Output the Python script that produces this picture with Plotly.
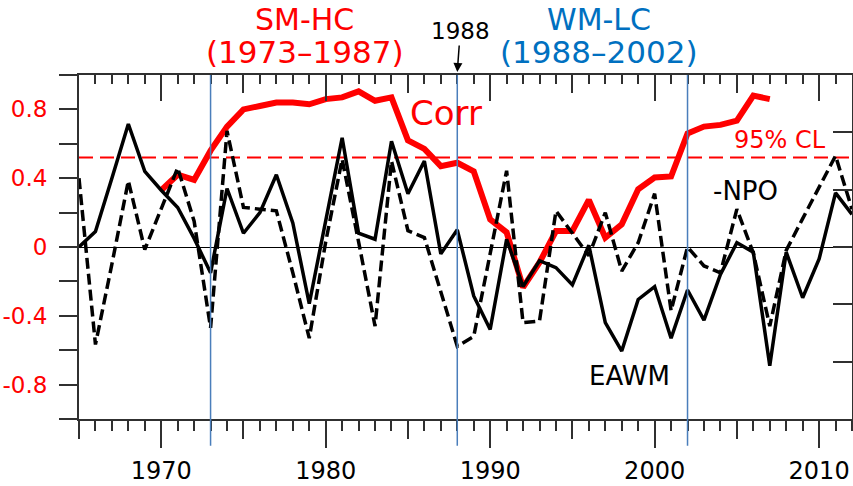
import plotly.graph_objects as go

# ---------------- data ----------------
years = list(range(1965, 2013))
corr_years = list(range(1970, 2008))

# 15-yr running correlation (red)
corr = [0.33, 0.42, 0.39, 0.56, 0.70, 0.80, 0.82, 0.84, 0.84, 0.83,
        0.86, 0.87, 0.905, 0.85, 0.87, 0.62, 0.57, 0.47, 0.49, 0.44,
        0.16, 0.085, -0.235, -0.09, 0.093, 0.093, 0.274, 0.054, 0.132, 0.336,
        0.404, 0.41, 0.66, 0.70, 0.71, 0.735, 0.88, 0.86]

# EAWM index (solid black)
eawm = [0.0, 0.09, 0.40, 0.715, 0.44, 0.33, 0.23, 0.05, -0.15, 0.34,
        0.08, 0.20, 0.42, 0.14, -0.33, 0.16, 0.635, 0.08, 0.045, 0.615,
        0.31, 0.50, -0.04, 0.10, -0.285, -0.48, 0.045, -0.23, -0.08, -0.12,
        -0.22, 0.01, -0.44, -0.605, -0.305, -0.23, -0.53, -0.25, -0.425, -0.16,
        0.025, -0.03, -0.69, -0.03, -0.295, -0.07, 0.315, 0.19]

# -NPO index (dashed black)
npo = [0.40, -0.567, -0.10, 0.385, -0.015, 0.22, 0.46, 0.15, -0.47, 0.675,
       0.23, 0.22, 0.21, -0.15, -0.53, 0.03, 0.51, 0.03, -0.46, 0.50,
       0.095, 0.055, -0.26, -0.577, -0.52, -0.05, 0.443, -0.44, -0.43, 0.21,
       0.08, -0.05, 0.20, -0.14, 0.025, 0.31, -0.37, 0.0, -0.11, -0.15,
       0.22, -0.035, -0.46, -0.02, 0.165, 0.35, 0.53, 0.22]

cl95 = 0.52
period_bounds = [1973, 1988, 2002]
x_range = [1965, 2012]
y_ticks = [-0.8, -0.4, 0, 0.4, 0.8]
y_ticktext = ["-0.8", "-0.4", "0", "0.4", "0.8"]
x_ticks = [1970, 1980, 1990, 2000, 2010]

FONT = "DejaVu Sans"
AX = "#303030"
BLUE_LINE = "#4a7ebb"

fig = go.Figure()

fig.add_trace(go.Scatter(x=corr_years, y=corr, mode="lines",
                         line=dict(color="#ff0000", width=6), showlegend=False))
fig.add_trace(go.Scatter(x=years, y=npo, mode="lines",
                         line=dict(color="black", width=3.5, dash="11px,5px"), showlegend=False))
fig.add_trace(go.Scatter(x=years, y=eawm, mode="lines",
                         line=dict(color="black", width=3.5), showlegend=False))

# dummy traces so the extra tick axes are rendered
for xa, ya in [("x2", "y"), ("x3", "y"), ("x4", "y"), ("x", "y2")]:
    fig.add_trace(go.Scatter(x=[None], y=[None], xaxis=xa, yaxis=ya,
                             mode="lines", showlegend=False, hoverinfo="skip"))

# 95% confidence level
fig.add_shape(type="line", xref="x", yref="y", x0=x_range[0], x1=x_range[1],
              y0=cl95, y1=cl95, line=dict(color="#ff0000", width=2, dash="14px,7px"),
              layer="below")

# period boundaries
for yr in period_bounds:
    fig.add_shape(type="line", xref="x", yref="paper", x0=yr, x1=yr,
                  y0=-0.078, y1=1.0, line=dict(color=BLUE_LINE, width=1.5),
                  layer="above")

common = dict(range=x_range, showgrid=False, zeroline=False, automargin=False)

fig.update_layout(
    width=853, height=486,
    margin=dict(l=79, r=1, t=75, b=67, autoexpand=False),
    paper_bgcolor="white", plot_bgcolor="white",
    font=dict(family=FONT, color="black"),
    showlegend=False,
    xaxis=dict(**common, tickmode="array", tickvals=x_ticks,
               ticks="outside", ticklen=27, tickwidth=2, tickcolor=AX,
               showline=True, linecolor=AX, linewidth=2,
               tickfont=dict(size=24, color="black", family=FONT),
               ticklabelstandoff=2,
               minor=dict(dtick=1, tick0=1965, ticks="outside", ticklen=10,
                          tickwidth=1.5, tickcolor=AX)),
    xaxis2=dict(**common, overlaying="x", anchor="y", side="bottom",
                tick0=1965, dtick=5, ticks="outside", ticklen=19, tickwidth=2,
                tickcolor=AX, showticklabels=False, showline=False),
    xaxis3=dict(**common, overlaying="x", anchor="y", side="top",
                tick0=1970, dtick=10, ticks="inside", ticklen=26, tickwidth=2,
                tickcolor=AX, showticklabels=False, showline=True,
                linecolor=AX, linewidth=2,
                minor=dict(dtick=1, tick0=1965, ticks="inside", ticklen=9,
                           tickwidth=1.5, tickcolor=AX)),
    xaxis4=dict(**common, overlaying="x", anchor="y", side="top",
                tick0=1965, dtick=5, ticks="inside", ticklen=18, tickwidth=2,
                tickcolor=AX, showticklabels=False, showline=False),
    yaxis=dict(range=[-1, 1], tickmode="array", tickvals=y_ticks, ticktext=y_ticktext,
               ticks="outside", ticklen=18, tickwidth=2, tickcolor=AX,
               showline=True, linecolor=AX, linewidth=2, showgrid=False,
               zeroline=True, zerolinecolor="black", zerolinewidth=1,
               automargin=False,
               tickfont=dict(size=23, color="#ff0000", family=FONT),
               ticklabelstandoff=7,
               minor=dict(dtick=0.2, tick0=0, ticks="outside", ticklen=18,
                          tickwidth=1.5, tickcolor=AX)),
    yaxis2=dict(range=[-3, 3], overlaying="y", anchor="x", side="right",
                dtick=1, tick0=0, ticks="inside", ticklen=19, tickwidth=1.5,
                tickcolor=AX, showticklabels=False, showline=True,
                linecolor=AX, linewidth=2, showgrid=False, zeroline=False,
                automargin=False),
)

def ann(text, x, y, size, color, xref="x", yref="y", yanchor="middle", **kw):
    fig.add_annotation(text=text, x=x, y=y, xref=xref, yref=yref, showarrow=False,
                       font=dict(family=FONT, size=size, color=color),
                       xanchor="center", yanchor=yanchor, **kw)

PH = 344.0  # plot height px
def py(pix):  # pixel row -> paper y
    return 1 + (75 - pix) / PH

ann("SM-HC", 1978.7, py(0.5), 30, "#ff0000", yref="paper", yanchor="top")
ann("(1973\u20131987)", 1978.7, py(52), 31, "#ff0000", yref="paper")
ann("WM-LC", 1996.6, py(0.5), 30, "#0070c0", yref="paper", yanchor="top")
ann("(1988\u20132002)", 1996.6, py(52), 31, "#0070c0", yref="paper")

fig.add_annotation(text="1988", x=1988, y=py(72), xref="x", yref="paper",
                   showarrow=True, arrowhead=2, arrowsize=1.2, arrowwidth=1.5,
                   arrowcolor="black", ax=3, ay=-41,
                   font=dict(family=FONT, size=23, color="black"))

ann("Corr", 1987.3, 0.78, 34, "#ff0000")
ann("95% CL", 2007.6, 0.62, 24, "#ff0000")
ann("-NPO", 2005.5, 0.326, 26, "black")
ann("EAWM", 1998.45, -0.75, 26, "black")

fig.write_html("out.html")
